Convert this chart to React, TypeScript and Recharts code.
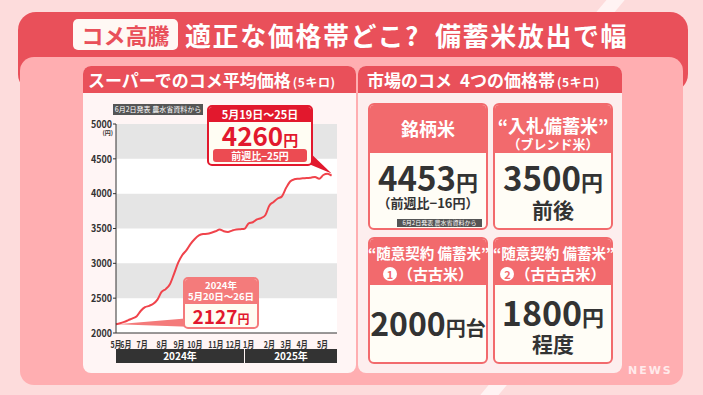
import React from "react";
import { ComposedChart, Line, XAxis, YAxis, ReferenceArea, ReferenceDot } from "recharts";

// weekly average supermarket price (5kg), 2024-05-20 week .. 2025-05-19 week
const prices = [2127, 2140, 2160, 2185, 2210, 2240, 2320, 2370, 2390, 2420, 2480, 2590, 2630, 2700, 2850, 3010, 3120, 3190, 3280, 3350, 3400, 3420, 3425, 3440, 3460, 3485, 3460, 3450, 3470, 3485, 3490, 3495, 3575, 3590, 3630, 3650, 3690, 3830, 3880, 3930, 3960, 4080, 4175, 4206, 4215, 4220, 4225, 4230, 4240, 4214, 4268, 4285, 4260];
const monthLabels = ["5月", "6月", "7月", "8月", "9月", "10月", "11月", "12月", "1月", "2月", "3月", "4月", "5月"];
const monthWeekPos = [0, 2.4, 6.3, 11.1, 15.2, 19, 24.1, 28.3, 32, 37, 41, 44.9, 49.8];
const yTicks = [2000, 2500, 3000, 3500, 4000, 4500, 5000];
const bands = [[4500, 5000], [3500, 4000], [2500, 3000]];
const yearLabels = ["2024年", "2025年"];

const data = prices.map((p, i) => ({ w: i, price: p }));

const RED = "#e9505a";
const SALMON = "#f26a6d";
const CRIMSON = "#e2182d";
const FONT = '"Noto Sans CJK JP", "Noto Sans", sans-serif';

const abs = (left: number, top: number, width: number, height: number, extra: React.CSSProperties = {}): React.CSSProperties => ({
  position: "absolute", left, top, width, height, boxSizing: "border-box", ...extra,
});

const centerText = (left: number, cy: number, width: number, size: number, color: string, extra: React.CSSProperties = {}): React.CSSProperties => ({
  position: "absolute", left, top: cy - size * 0.5, width, height: size, lineHeight: `${size}px`,
  fontSize: size, color, textAlign: "center", fontWeight: 700, whiteSpace: "nowrap", ...extra,
});

const lastIdx = prices.length - 1;

function Tail1(props: any) {
  const { cx, cy } = props;
  if (cx == null) return null;
  return <polygon points={`${cx - 24},${cy - 25} ${cx - 24},${cy - 12} ${cx},${cy - 2}`} fill={CRIMSON} />;
}
function Tail2(props: any) {
  const { cx, cy } = props;
  if (cx == null) return null;
  return <polygon points={`${cx + 1},${cy} ${cx + 72},${cy - 6} ${cx + 72},${cy + 2.5}`} fill="#f47b7b" />;
}

function XTick(props: any) {
  const { x, y, payload } = props;
  const label = monthLabels[monthWeekPos.indexOf(payload.value)] ?? "";
  return (
    <g transform={`translate(${x},${y})`}>
      <text transform="scale(0.74,1)" textAnchor="middle" dy="0.75em" fontSize={9.5} fontWeight={700} fill="#333" fontFamily={FONT}>{label}</text>
    </g>
  );
}
function YTick(props: any) {
  const { x, y, payload } = props;
  return (
    <g transform={`translate(${x},${y})`}>
      <text transform="scale(0.85,1)" textAnchor="end" dy="0.36em" fontSize={10.5} fontWeight={700} fill="#333" fontFamily={FONT}>{payload.value}</text>
    </g>
  );
}

const Circled = ({ n }: { n: string }) => (
  <span style={{ display: "inline-block", width: 14, height: 14, borderRadius: 7, background: "#fff", color: SALMON, fontSize: 11, lineHeight: "14px", textAlign: "center", verticalAlign: "1px", marginRight: 1 }}>{n}</span>
);

export default function App() {
  return (
    <div style={{ position: "absolute", left: 0, top: 0, width: 703, height: 395, overflow: "hidden", background: "#fddcdc", fontFamily: FONT }}>
      {/* decorative diagonal stripes */}
      <div style={abs(640, -40, 14, 260, { background: "#fff3f3", transform: "rotate(40deg)", transformOrigin: "top left" })} />
      <div style={abs(560, 300, 14, 200, { background: "#fff3f3", transform: "rotate(40deg)", transformOrigin: "top left" })} />
      {/* red panel */}
      <div style={abs(18, 12, 670, 80, { background: RED, borderRadius: 18 })} />
      {/* pink panel */}
      <div style={abs(20, 57, 663, 328, { background: "#ffaeb1", borderRadius: 14 })} />
      {/* title */}
      <div style={abs(73, 19, 105, 31, { background: "#fff8f4", borderRadius: 5, color: RED, fontSize: 22, fontWeight: 700, lineHeight: "31px", textAlign: "center" })}>コメ高騰</div>
      <div style={abs(185, 17, 480, 36, { color: "#fff", fontSize: 26, fontWeight: 700, lineHeight: "36px", whiteSpace: "pre", letterSpacing: 1.6 })}>適正な価格帯どこ?  備蓄米放出で幅</div>

      {/* left card */}
      <div style={abs(83, 66, 273, 307, { background: "#fff5f5", borderRadius: 8, overflow: "hidden" })}>
        <div style={{ height: 27, background: RED, color: "#fff", fontWeight: 700, fontSize: 17, lineHeight: "27px", paddingLeft: 5, whiteSpace: "nowrap" }}>
          スーパーでのコメ平均価格<span style={{ fontSize: 12, marginLeft: 2, letterSpacing: 0.5 }}>(5キロ)</span>
        </div>
      </div>

      {/* chart */}
      <div style={abs(60, 100, 290, 270)}>
        <ComposedChart width={290} height={270} data={data} margin={{ top: 24, right: 13, bottom: 25, left: 0 }}>
          <ReferenceArea x1={0} x2={53.3} y1={2000} y2={5000} fill="#ffffff" fillOpacity={1} stroke="none" ifOverflow="hidden" />
          {bands.map((b, i) => (
            <ReferenceArea key={i} x1={0} x2={53.3} y1={b[0]} y2={b[1]} fill="#e5e5e5" fillOpacity={1} stroke="none" ifOverflow="hidden" />
          ))}
          <XAxis dataKey="w" type="number" domain={[0, 53.3]} ticks={monthWeekPos} interval={0}
            tick={<XTick />} tickLine={false} tickMargin={2} height={12} axisLine={{ stroke: "#333", strokeWidth: 1 }} />
          <YAxis type="number" domain={[2000, 5000]} ticks={yTicks} width={56} interval={0}
            tick={<YTick />} tickSize={3} tickMargin={1} tickLine={{ stroke: "#333" }} axisLine={{ stroke: "#333", strokeWidth: 1 }} />
          <Line type="monotone" dataKey="price" stroke="#f0434b" strokeWidth={2} dot={false} isAnimationActive={false} />
          <ReferenceDot x={lastIdx} y={prices[lastIdx]} r={0} shape={Tail1} ifOverflow="visible" />
          <ReferenceDot x={0} y={prices[0]} r={0} shape={Tail2} ifOverflow="visible" />
        </ComposedChart>
      </div>
      <div style={abs(96, 129, 17, 8, { fontSize: 6, color: "#333", fontWeight: 700, lineHeight: "8px", textAlign: "right" })}>(円)</div>
      <div style={abs(113, 104, 90, 11, { background: "#555", color: "#fff", fontSize: 7, lineHeight: "11px", textAlign: "center", whiteSpace: "nowrap" })}>6月2日発表 農水省資料から</div>

      {/* year bars */}
      <div style={abs(116, 349, 128, 14, { background: "#333", color: "#fff", fontSize: 10, fontWeight: 700, lineHeight: "14px", textAlign: "center" })}>{yearLabels[0]}</div>
      <div style={abs(245, 349, 92, 14, { background: "#333", color: "#fff", fontSize: 10, fontWeight: 700, lineHeight: "14px", textAlign: "center" })}>{yearLabels[1]}</div>

      {/* callout latest */}
      <div style={abs(207, 105, 106, 61, { border: `2px solid ${CRIMSON}`, borderRadius: 5, background: "#fffdf3", overflow: "hidden" })}>
        <div style={{ height: 15, background: CRIMSON, color: "#fff", fontSize: 11, fontWeight: 700, lineHeight: "15px", textAlign: "center" }}>5月19日〜25日</div>
        <div style={{ height: 27, color: CRIMSON, fontSize: 26, fontWeight: 700, lineHeight: "26px", textAlign: "center" }}>4260<span style={{ fontSize: 15 }}>円</span></div>
        <div style={{ margin: "0 4px", height: 13, background: "#ec4b52", borderRadius: 3, color: "#fff", fontSize: 10, fontWeight: 700, lineHeight: "13px", textAlign: "center" }}>前週比−25円</div>
      </div>

      {/* callout first */}
      <div style={abs(183, 277, 76, 52, { border: "2px solid #f47b7b", borderRadius: 5, background: "#fffdf3", overflow: "hidden" })}>
        <div style={{ height: 24, background: "#f47b7b", color: "#fff", fontSize: 9.5, fontWeight: 700, lineHeight: "11px", textAlign: "center", paddingTop: 1 }}>2024年<br />5月20日〜26日</div>
        <div style={{ height: 24, color: CRIMSON, fontSize: 19, fontWeight: 700, lineHeight: "24px", textAlign: "center" }}>2127<span style={{ fontSize: 12 }}>円</span></div>
      </div>

      {/* right card */}
      <div style={abs(358, 66, 264, 307, { background: "#fdeeee", borderRadius: 8, overflow: "hidden" })}>
        <div style={{ height: 27, background: RED, color: "#fff", fontWeight: 700, fontSize: 17, lineHeight: "27px", paddingLeft: 9, whiteSpace: "nowrap" }}>
          市場のコメ<span style={{ marginLeft: 8 }}>4つの価格帯</span><span style={{ fontSize: 12, marginLeft: 2, letterSpacing: 0.5 }}>(5キロ)</span>
        </div>
      </div>

      {/* sub cards */}
      {[[368, 103, 50], [493, 103, 50], [368, 237, 48], [493, 237, 48]].map(([l, t, hh], i) => (
        <div key={i} style={abs(l, t, 120, 127, { border: `2px solid ${SALMON}`, borderRadius: 6, background: "#fffdf6", overflow: "hidden" })}>
          <div style={{ height: hh - 2, background: SALMON }} />
        </div>
      ))}

      <div style={centerText(368, 128, 120, 18, "#fff")}>銘柄米</div>
      <div style={centerText(368, 177, 120, 33, "#333")}>4453<span style={{ fontSize: 22 }}>円</span></div>
      <div style={centerText(368, 202, 120, 13, "#333")}>（前週比−16円）</div>
      <div style={abs(397, 219, 85, 8, { background: "#555", color: "#fff", fontSize: 6, lineHeight: "8px", textAlign: "center", whiteSpace: "nowrap" })}>6月2日発表 農水省資料から</div>

      <div style={centerText(493, 125, 120, 18, "#fff")}>“入札備蓄米”</div>
      <div style={centerText(493, 143, 120, 13, "#fff")}>（ブレンド米）</div>
      <div style={centerText(493, 177, 120, 33, "#333")}>3500<span style={{ fontSize: 22 }}>円</span></div>
      <div style={centerText(493, 209, 120, 21, "#333")}>前後</div>

      <div style={centerText(368, 253, 120, 14.5, "#fff")}>“随意契約 備蓄米”</div>
      <div style={centerText(368, 273, 120, 15, "#fff")}><Circled n="1" />（古古米）</div>
      <div style={centerText(368, 322, 120, 32, "#333")}>2000<span style={{ fontSize: 20 }}>円台</span></div>

      <div style={centerText(493, 253, 120, 14.5, "#fff")}>“随意契約 備蓄米”</div>
      <div style={centerText(493, 273, 120, 15, "#fff")}><Circled n="2" />（古古古米）</div>
      <div style={centerText(493, 312, 120, 34, "#333")}>1800<span style={{ fontSize: 22 }}>円</span></div>
      <div style={centerText(493, 343, 120, 21, "#333")}>程度</div>

      <div style={abs(628, 364, 60, 14, { color: "#ffffff", opacity: 0.75, fontSize: 11, fontWeight: 700, letterSpacing: 2, fontFamily: "DejaVu Sans" })}>NEWS</div>
    </div>
  );
}
